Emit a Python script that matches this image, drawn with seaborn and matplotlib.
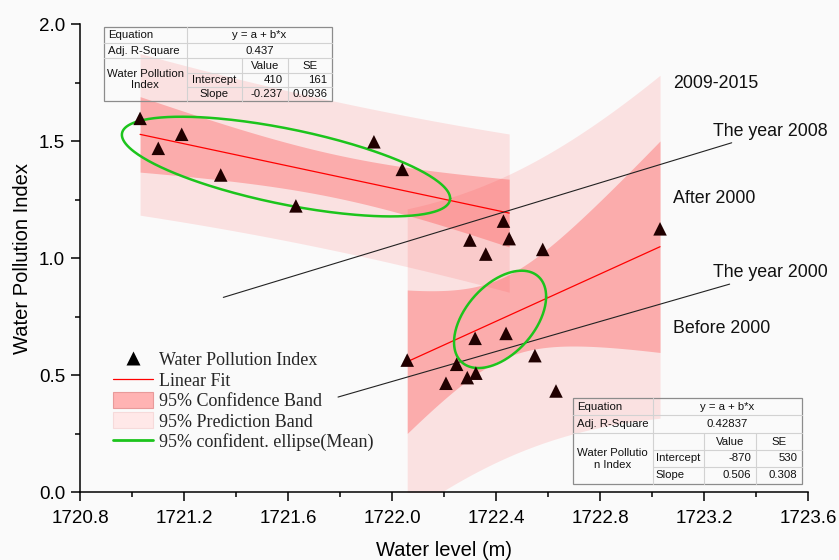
import numpy as np
import matplotlib
matplotlib.use("Agg")
import matplotlib.pyplot as plt
from matplotlib.lines import Line2D
from matplotlib.patches import Patch, Rectangle
from matplotlib.ticker import MultipleLocator, FormatStrFormatter
import seaborn as sns

# ---- observations: water level (m) vs. water pollution index ----
level_after = [1721.031, 1721.101, 1721.191, 1721.341, 1721.630, 1721.930,
               1722.039, 1722.428, 1722.450, 1722.299, 1722.360]
wpi_after = [1.598, 1.470, 1.530, 1.356, 1.224, 1.498,
             1.380, 1.159, 1.084, 1.078, 1.018]

level_before = [1722.058, 1722.207, 1722.248, 1722.289, 1722.319, 1722.322,
                1722.438, 1722.549, 1722.579, 1722.630, 1723.030]
wpi_before = [0.565, 0.466, 0.547, 0.490, 0.658, 0.509,
              0.679, 0.584, 1.038, 0.433, 1.126]

# ---- linear fit y = a + b*x for each period ----
fit_intercept = [409.5, -870.1145]
fit_slope = [-0.23705, 0.5056]
intercept_se = [161, 530]
slope_se = [0.0936, 0.308]
adj_r2 = ["0.437", "0.42837"]
resid_sd = [0.135, 0.255]
t_975_df9 = 2.2622

# ---- 95% confidence ellipse of the mean (centre, spreads, correlation) ----
ell_cx = [1721.592, 1722.415]
ell_cy = [1.392, 0.739]
ell_sx = [0.631, 0.177]
ell_sy = [0.213, 0.208]
ell_r = [-0.638, 0.469]

# ---- axis ticks ----
x_limits = [1720.8, 1723.6]
y_limits = [0.0, 2.0]

W, H = 839, 560
sns.set_theme(style="white")
plt.rcParams["font.family"] = ["Liberation Sans", "DejaVu Sans"]
bg = "#fafafa"

fig = plt.figure(figsize=(W / 100, H / 100), dpi=100, facecolor=bg)
ax = fig.add_axes([80 / W, 1 - 492.3 / H, (808.3 - 80) / W, (492.3 - 24.3) / H])
ax.set_facecolor(bg)

pred_color, ci_color = "#ff3030", "#ff4040"

groups = [(level_after, wpi_after), (level_before, wpi_before)]
for i, (lx, ly) in enumerate(groups):
    x = np.asarray(lx)
    n = len(x)
    xbar = x.mean()
    sxx = ((x - xbar) ** 2).sum()
    xs = np.linspace(x.min(), x.max(), 200)
    yfit = fit_intercept[i] + fit_slope[i] * xs
    ci = t_975_df9 * resid_sd[i] * np.sqrt(1 / n + (xs - xbar) ** 2 / sxx)
    pi = t_975_df9 * resid_sd[i] * np.sqrt(1 + 1 / n + (xs - xbar) ** 2 / sxx)
    ax.fill_between(xs, yfit - pi, yfit + pi, color=pred_color, alpha=0.12,
                    linewidth=0, zorder=1)
    ax.fill_between(xs, yfit - ci, yfit + ci, color=ci_color, alpha=0.33,
                    linewidth=0, zorder=2)
    sns.lineplot(x=xs, y=yfit, color="red", linewidth=0.9, ax=ax, zorder=3)

    t = np.linspace(0, 2 * np.pi, 300)
    ex = ell_cx[i] + ell_sx[i] * np.cos(t)
    ey = ell_cy[i] + ell_sy[i] * (ell_r[i] * np.cos(t)
                                  + np.sqrt(1 - ell_r[i] ** 2) * np.sin(t))
    ax.plot(ex, ey, color="#1cc41c", linewidth=1.8, zorder=4)

all_x = level_after + level_before
all_y = wpi_after + wpi_before
sns.scatterplot(x=all_x, y=all_y, marker="^", s=95, color="#200000",
                edgecolor="none", linewidth=0, ax=ax, zorder=6, legend=False)

# period annotations
txt_kw = dict(fontsize=12.8, color="#111111", va="center", ha="left")
ax.annotate("The year 2008", xy=(1721.351, 0.833), xytext=(1723.234, 1.544),
            arrowprops=dict(arrowstyle="-", color="#222222", lw=0.8,
                            shrinkA=0, shrinkB=0), **txt_kw)
ax.annotate("The year 2000", xy=(1721.792, 0.407), xytext=(1723.234, 0.940),
            arrowprops=dict(arrowstyle="-", color="#222222", lw=0.8,
                            shrinkA=0, shrinkB=0), **txt_kw)
ax.text(1723.081, 1.748, "2009-2015", **txt_kw)
ax.text(1723.081, 1.256, "After 2000", **txt_kw)
ax.text(1723.081, 0.701, "Before 2000", **txt_kw)

# axes styling
ax.set_xlim(*x_limits)
ax.set_ylim(*y_limits)
ax.xaxis.set_major_locator(MultipleLocator(0.4))
ax.xaxis.set_minor_locator(MultipleLocator(0.2))
ax.yaxis.set_major_locator(MultipleLocator(0.5))
ax.yaxis.set_minor_locator(MultipleLocator(0.25))
ax.xaxis.set_major_formatter(FormatStrFormatter("%.1f"))
ax.yaxis.set_major_formatter(FormatStrFormatter("%.1f"))
for s in ["top", "right"]:
    ax.spines[s].set_visible(False)
for s in ["left", "bottom"]:
    ax.spines[s].set_color("black")
    ax.spines[s].set_linewidth(1.1)
    ax.spines[s].set_zorder(7)
ax.tick_params(which="major", direction="out", length=6.8, width=1.1,
               color="black", labelsize=13.5, labelcolor="black", pad=4,
               bottom=True, left=True)
ax.tick_params(axis="x", which="major", pad=6)
ax.tick_params(which="minor", direction="out", length=3.8, width=1.1,
               color="black", bottom=True, left=True)
ax.set_xlabel("Water level (m)", fontsize=14.5, color="black", labelpad=10)
ax.set_ylabel("Water Pollution Index", fontsize=14.5, color="black", labelpad=5)

# legend
handles = [
    Line2D([], [], linestyle="none", marker="^", markersize=9.5,
           markerfacecolor="#000000", markeredgecolor="none"),
    Line2D([], [], color="red", linewidth=0.9),
    Patch(facecolor="#ffb3b3", edgecolor="#e89a9a", linewidth=0.8),
    Patch(facecolor="#ffe8e8", edgecolor="#f6dada", linewidth=0.8),
    Line2D([], [], color="#1cc41c", linewidth=2.0),
]
labels = ["Water Pollution Index", "Linear Fit", "95% Confidence Band",
          "95% Prediction Band", "95% confident. ellipse(Mean)"]
leg = ax.legend(handles, labels, loc="upper left",
                bbox_to_anchor=(113 / W, 1 - 351 / H),
                bbox_transform=fig.transFigure, frameon=False,
                prop={"family": ["Liberation Serif"], "size": 13},
                handlelength=2.2, handleheight=1.0, handletextpad=0.35,
                labelspacing=0.12, borderpad=0, borderaxespad=0)
leg.set_zorder(8)


# fit statistics tables
def fig_xy(px, py):
    return px / W, 1 - py / H


def draw_table(xe, ye, texts, col1_align):
    tr = fig.transFigure
    x0, y0 = fig_xy(xe[0], ye[0])
    x1, y1 = fig_xy(xe[-1], ye[-1])
    fig.add_artist(Rectangle((x0, y1), x1 - x0, y0 - y1, transform=tr,
                             fill=False, edgecolor="#8c8c8c", linewidth=0.9,
                             zorder=9))
    segs = [
        ((xe[0], ye[1]), (xe[4], ye[1])),
        ((xe[0], ye[2]), (xe[4], ye[2])),
        ((xe[1], ye[3]), (xe[4], ye[3])),
        ((xe[1], ye[4]), (xe[4], ye[4])),
        ((xe[1], ye[0]), (xe[1], ye[5])),
        ((xe[2], ye[2]), (xe[2], ye[5])),
        ((xe[3], ye[2]), (xe[3], ye[5])),
    ]
    for (ax_, ay_), (bx_, by_) in segs:
        p, q = fig_xy(ax_, ay_), fig_xy(bx_, by_)
        fig.add_artist(Line2D([p[0], q[0]], [p[1], q[1]], transform=tr,
                              color="#d2d2d2", linewidth=0.8, zorder=9))

    def put(s, px, py, ha):
        fx, fy = fig_xy(px, py)
        fig.text(fx, fy, s, ha=ha, va="center", fontsize=8.2,
                 color="#111111", zorder=10)

    def rmid(r):
        return (ye[r] + ye[r + 1]) / 2

    def cmid(c0, c1):
        return (xe[c0] + xe[c1]) / 2

    put("Equation", xe[0] + 4, rmid(0), "left")
    put("y = a + b*x", cmid(1, 4), rmid(0), "center")
    put("Adj. R-Square", xe[0] + 4, rmid(1), "left")
    put(texts["r2"], cmid(1, 4), rmid(1), "center")
    put(texts["name"], cmid(0, 1), (ye[2] + ye[5]) / 2, "center")
    put("Value", cmid(2, 3), rmid(2), "center")
    put("SE", cmid(3, 4), rmid(2), "center")
    for r, lab in [(3, "Intercept"), (4, "Slope")]:
        if col1_align == "left":
            put(lab, xe[1] + 3, rmid(r), "left")
        else:
            put(lab, cmid(1, 2), rmid(r), "center")
    put(texts["a"], xe[3] - 5, rmid(3), "right")
    put(texts["a_se"], xe[4] - 5, rmid(3), "right")
    put(texts["b"], xe[3] - 5, rmid(4), "right")
    put(texts["b_se"], xe[4] - 5, rmid(4), "right")


def fmt3(v):
    return "%.3g" % v


draw_table([104, 186.7, 241.7, 288.3, 332.3],
           [27.3, 43.3, 58.3, 73.3, 86.7, 100.7],
           dict(r2=adj_r2[0], name="Water Pollution\nIndex",
                a=fmt3(fit_intercept[0]), a_se=fmt3(intercept_se[0]),
                b=fmt3(fit_slope[0]), b_se=fmt3(slope_se[0])),
           "center")
draw_table([572.7, 652.7, 704, 756, 802.3],
           [398.3, 415, 433.3, 450, 466.7, 484.3],
           dict(r2=adj_r2[1], name="Water Pollutio\nn Index",
                a=fmt3(fit_intercept[1]), a_se=fmt3(intercept_se[1]),
                b=fmt3(fit_slope[1]), b_se=fmt3(slope_se[1])),
           "left")

fig.savefig("out.png", dpi=100, facecolor=bg)
